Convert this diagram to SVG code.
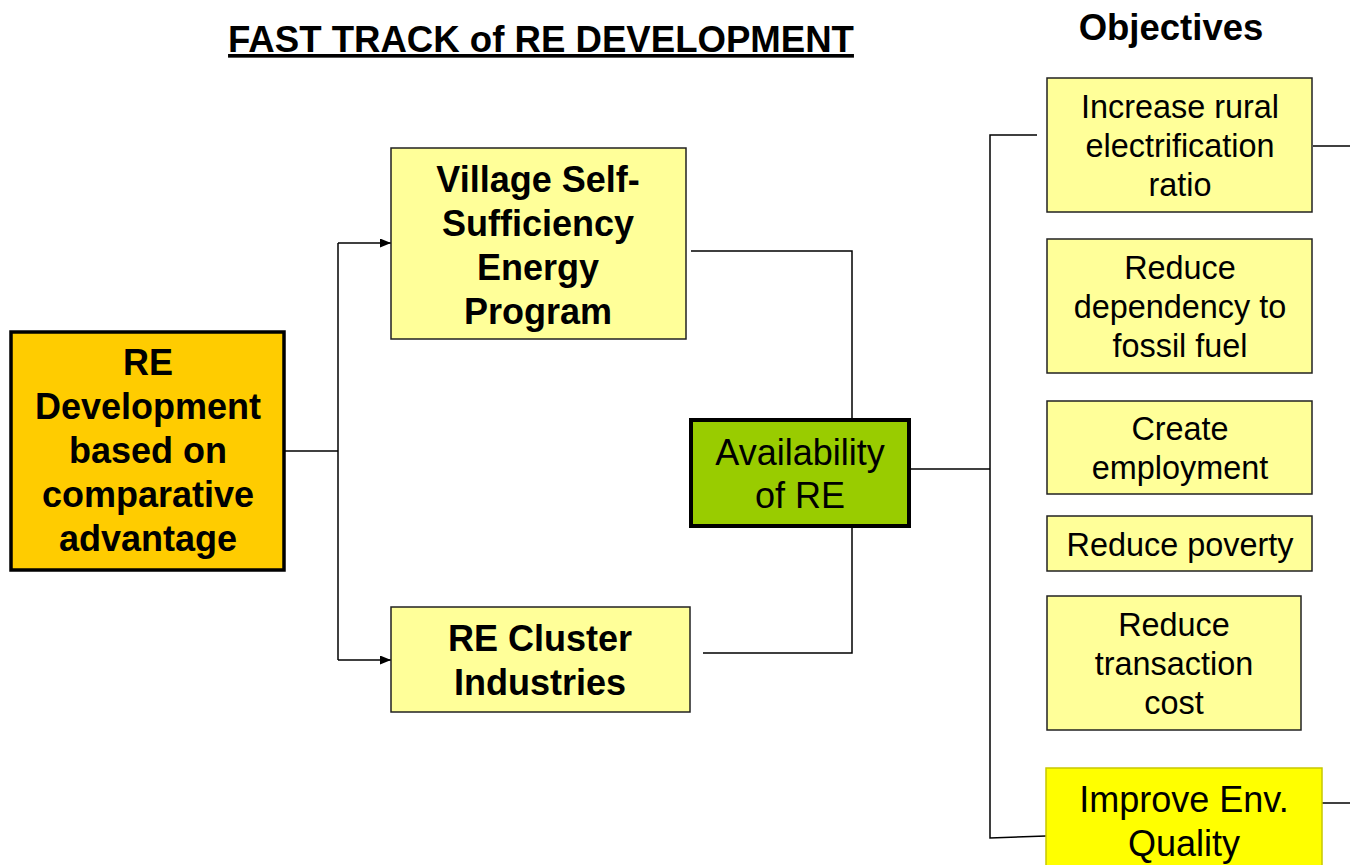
<svg xmlns="http://www.w3.org/2000/svg" width="1350" height="865" viewBox="0 0 1350 865">
<defs>
<style>
.t{font-family:"Liberation Sans",Arial,sans-serif;text-anchor:middle;fill:#000}
.b{font-weight:bold;font-size:36px}
.o{font-size:32.4px}
.box{fill:#FFFF99;stroke:#222;stroke-width:1.5}
.c{fill:none;stroke:#000;stroke-width:1.5}
</style>
<marker id="ah" markerWidth="11" markerHeight="9" refX="11" refY="4.5" orient="auto" markerUnits="userSpaceOnUse">
<path d="M0,0 L11,4.5 L0,9 z" fill="#000"/>
</marker>
</defs>
<rect width="1350" height="865" fill="#fff"/>
<g id="title">
<text class="t b" x="541" y="52" text-decoration="underline" style="font-size:36.6px">FAST TRACK of RE DEVELOPMENT</text>
<text class="t b" x="1171" y="40" style="font-size:36.5px">Objectives</text>
</g>
<g id="connectors">
<polyline class="c" points="285,451 338,451"/>
<polyline class="c" points="338,243 338,660"/>
<polyline class="c" points="338,243 391,243" marker-end="url(#ah)"/>
<polyline class="c" points="338,660 391,660" marker-end="url(#ah)"/>
<polyline class="c" points="691,251 852,251 852,423"/>
<polyline class="c" points="852,527 852,653 703,653"/>
<polyline class="c" points="910,469 990,469"/>
<polyline class="c" points="1037,135 990,135 990,838 1046,836"/>
<polyline class="c" points="1313,146 1350,146"/>
<polyline class="c" points="1322,803 1350,803"/>
</g>
<g id="re-development">
<rect x="11" y="332" width="273" height="238" fill="#FFCC00" stroke="#000" stroke-width="3.5"/>
<text class="t b" x="148" y="375">RE</text>
<text class="t b" x="148" y="419">Development</text>
<text class="t b" x="148" y="463">based on</text>
<text class="t b" x="148" y="507">comparative</text>
<text class="t b" x="148" y="551">advantage</text>
</g>
<g id="village">
<rect class="box" x="391" y="148" width="295" height="191"/>
<text class="t b" x="538" y="192">Village Self-</text>
<text class="t b" x="538" y="236">Sufficiency</text>
<text class="t b" x="538" y="280">Energy</text>
<text class="t b" x="538" y="324">Program</text>
</g>
<g id="cluster">
<rect class="box" x="391" y="607" width="299" height="105"/>
<text class="t b" x="540" y="651">RE Cluster</text>
<text class="t b" x="540" y="695">Industries</text>
</g>
<g id="availability">
<rect x="691" y="420" width="218" height="106" fill="#99CC00" stroke="#000" stroke-width="4"/>
<text class="t" x="800" y="465" style="font-size:36px">Availability</text>
<text class="t" x="800" y="508" style="font-size:36px">of RE</text>
</g>
<g id="obj1">
<rect class="box" x="1047" y="78" width="265" height="134"/>
<text class="t o" x="1180" y="118">Increase rural</text>
<text class="t o" x="1180" y="157">electrification</text>
<text class="t o" x="1180" y="196">ratio</text>
</g>
<g id="obj2">
<rect class="box" x="1047" y="239" width="265" height="134"/>
<text class="t o" x="1180" y="279">Reduce</text>
<text class="t o" x="1180" y="318">dependency to</text>
<text class="t o" x="1180" y="357">fossil fuel</text>
</g>
<g id="obj3">
<rect class="box" x="1047" y="401" width="265" height="93"/>
<text class="t o" x="1180" y="440">Create</text>
<text class="t o" x="1180" y="479">employment</text>
</g>
<g id="obj4">
<rect class="box" x="1047" y="516" width="265" height="55"/>
<text class="t o" x="1180" y="556">Reduce poverty</text>
</g>
<g id="obj5">
<rect class="box" x="1047" y="596" width="254" height="134"/>
<text class="t o" x="1174" y="636">Reduce</text>
<text class="t o" x="1174" y="675">transaction</text>
<text class="t o" x="1174" y="714">cost</text>
</g>
<g id="obj6">
<rect x="1046" y="768" width="276" height="110" fill="#FFFF00" stroke="#C8C800" stroke-width="1.5"/>
<text class="t" x="1184" y="812" style="font-size:36px">Improve Env.</text>
<text class="t" x="1184" y="856" style="font-size:36px">Quality</text>
</g>
</svg>
